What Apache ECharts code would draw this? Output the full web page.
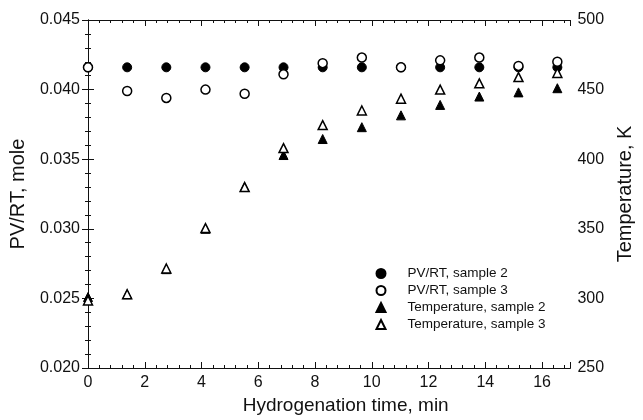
<!DOCTYPE html>
<html>
<head>
<meta charset="utf-8">
<script src="https://cdn.jsdelivr.net/npm/echarts@6/dist/echarts.min.js"></script>
<style>
html,body{margin:0;padding:0;background:#fff;}
#chart{width:643px;height:420px;}
</style>
</head>
<body>
<div id="chart"></div>
<script>
// Hydrogenation time (min)
const times = [0, 1.38, 2.76, 4.14, 5.52, 6.89, 8.27, 9.65, 11.03, 12.41, 13.79, 15.17, 16.54];
// PV/RT (mole)
const pvrtSample2 = [0.0416, 0.0416, 0.0416, 0.0416, 0.0416, 0.0416, 0.0416, 0.0416, 0.0416, 0.0416, 0.0416, 0.0416, 0.0416];
const pvrtSample3 = [0.0416, 0.0399, 0.0394, 0.0400, 0.0397, 0.0411, 0.0419, 0.0423, 0.0416, 0.0421, 0.0423, 0.0417, 0.0420];
// Temperature (K)
const tempSample2 = [301, 303, 321, 350, 380, 403, 414.5, 423, 431.5, 439, 445, 448, 451];
const tempSample3 = [298.5, 303, 321.5, 350.5, 380, 408, 424.5, 435, 443.5, 450, 454.5, 459, 462];
// Series names
const seriesNames = ['PV/RT, sample 2', 'PV/RT, sample 3', 'Temperature, sample 2', 'Temperature, sample 3'];

const FONT = "'Liberation Sans', Arial, sans-serif";
const INK = '#111';
const pair = (xs, ys) => xs.map((x, i) => [x, ys[i]]);

const chart = echarts.init(document.getElementById('chart'), null, {renderer: 'canvas'});

const axisLineStyle = {show: true, lineStyle: {color: INK, width: 1}};
const tick = {show: true, inside: true, length: 6, lineStyle: {color: INK, width: 1}};
const outTick = {show: true, inside: false, length: 3, lineStyle: {color: INK, width: 1}};
const minor = {show: true, splitNumber: 5, length: 3, lineStyle: {color: INK, width: 1}};

const filled = {color: '#000', borderColor: '#000', borderWidth: 1, opacity: 1};
const open = {color: '#fff', borderColor: '#000', borderWidth: 1.5, opacity: 1};

chart.setOption({
  animation: false,
  backgroundColor: '#fff',
  textStyle: {fontFamily: FONT},
  grid: {left: 88, right: 58, top: 20, bottom: 52, containLabel: false},
  legend: {
    orient: 'vertical',
    left: 375.5, top: 266.5,
    padding: 0,
    itemWidth: 9, itemHeight: 9, itemGap: 3,
    data: seriesNames,
    textStyle: {fontFamily: FONT, fontSize: 13.5, color: INK, lineHeight: 14, padding: [0, 0, 0, 17]}
  },
  xAxis: [{
    type: 'value', position: 'bottom', min: 0, max: 17, interval: 2,
    axisLine: axisLineStyle, axisTick: tick, minorTick: minor, splitLine: {show: false},
    axisLabel: {show: true, showMaxLabel: false, margin: 7, color: INK, fontSize: 16, fontFamily: FONT},
    name: 'Hydrogenation time, min', nameLocation: 'middle', nameGap: 27,
    nameTextStyle: {fontSize: 19, color: INK, fontFamily: FONT, padding: [0, 0, 0, 33]}
  }, {
    type: 'value', position: 'top', min: 0, max: 17, interval: 2,
    axisLine: axisLineStyle, axisTick: tick, minorTick: minor, splitLine: {show: false},
    axisLabel: {show: false}
  }],
  yAxis: [{
    type: 'value', position: 'left', min: 0.020, max: 0.045, interval: 0.005,
    axisLine: axisLineStyle, axisTick: tick, minorTick: minor, splitLine: {show: false},
    axisLabel: {margin: 8, color: INK, fontSize: 16, fontFamily: FONT, formatter: v => v.toFixed(3)},
    name: 'PV/RT, mole', nameLocation: 'middle', nameGap: 60, nameRotate: 90,
    nameTextStyle: {fontSize: 20, color: INK, fontFamily: FONT}
  }, {
    type: 'value', position: 'right', min: 250, max: 500, interval: 50,
    axisLine: axisLineStyle, axisTick: tick, minorTick: minor, splitLine: {show: false},
    axisLabel: {margin: 7, color: INK, fontSize: 16, fontFamily: FONT},
    name: 'Temperature, K', nameLocation: 'middle', nameGap: 39, nameRotate: 90,
    nameTextStyle: {fontSize: 20, color: INK, fontFamily: FONT}
  }, {
    // outward half of the crossing major ticks, left side
    type: 'value', position: 'left', offset: 0, min: 0.020, max: 0.045, interval: 0.005,
    axisLine: {show: false}, axisTick: outTick, splitLine: {show: false}, axisLabel: {show: false}
  }],
  series: [
    {name: seriesNames[0], type: 'scatter', xAxisIndex: 0, yAxisIndex: 0, symbol: 'circle', symbolSize: 9,
     itemStyle: filled, data: pair(times, pvrtSample2)},
    {name: seriesNames[1], type: 'scatter', xAxisIndex: 0, yAxisIndex: 0, symbol: 'circle', symbolSize: 9,
     itemStyle: open, data: pair(times, pvrtSample3)},
    {name: seriesNames[2], type: 'scatter', xAxisIndex: 0, yAxisIndex: 1, symbol: 'triangle', symbolSize: 9,
     itemStyle: filled, data: pair(times, tempSample2)},
    {name: seriesNames[3], type: 'scatter', xAxisIndex: 0, yAxisIndex: 1, symbol: 'triangle', symbolSize: 9,
     itemStyle: open, data: pair(times, tempSample3)}
  ]
});
</script>
</body>
</html>
